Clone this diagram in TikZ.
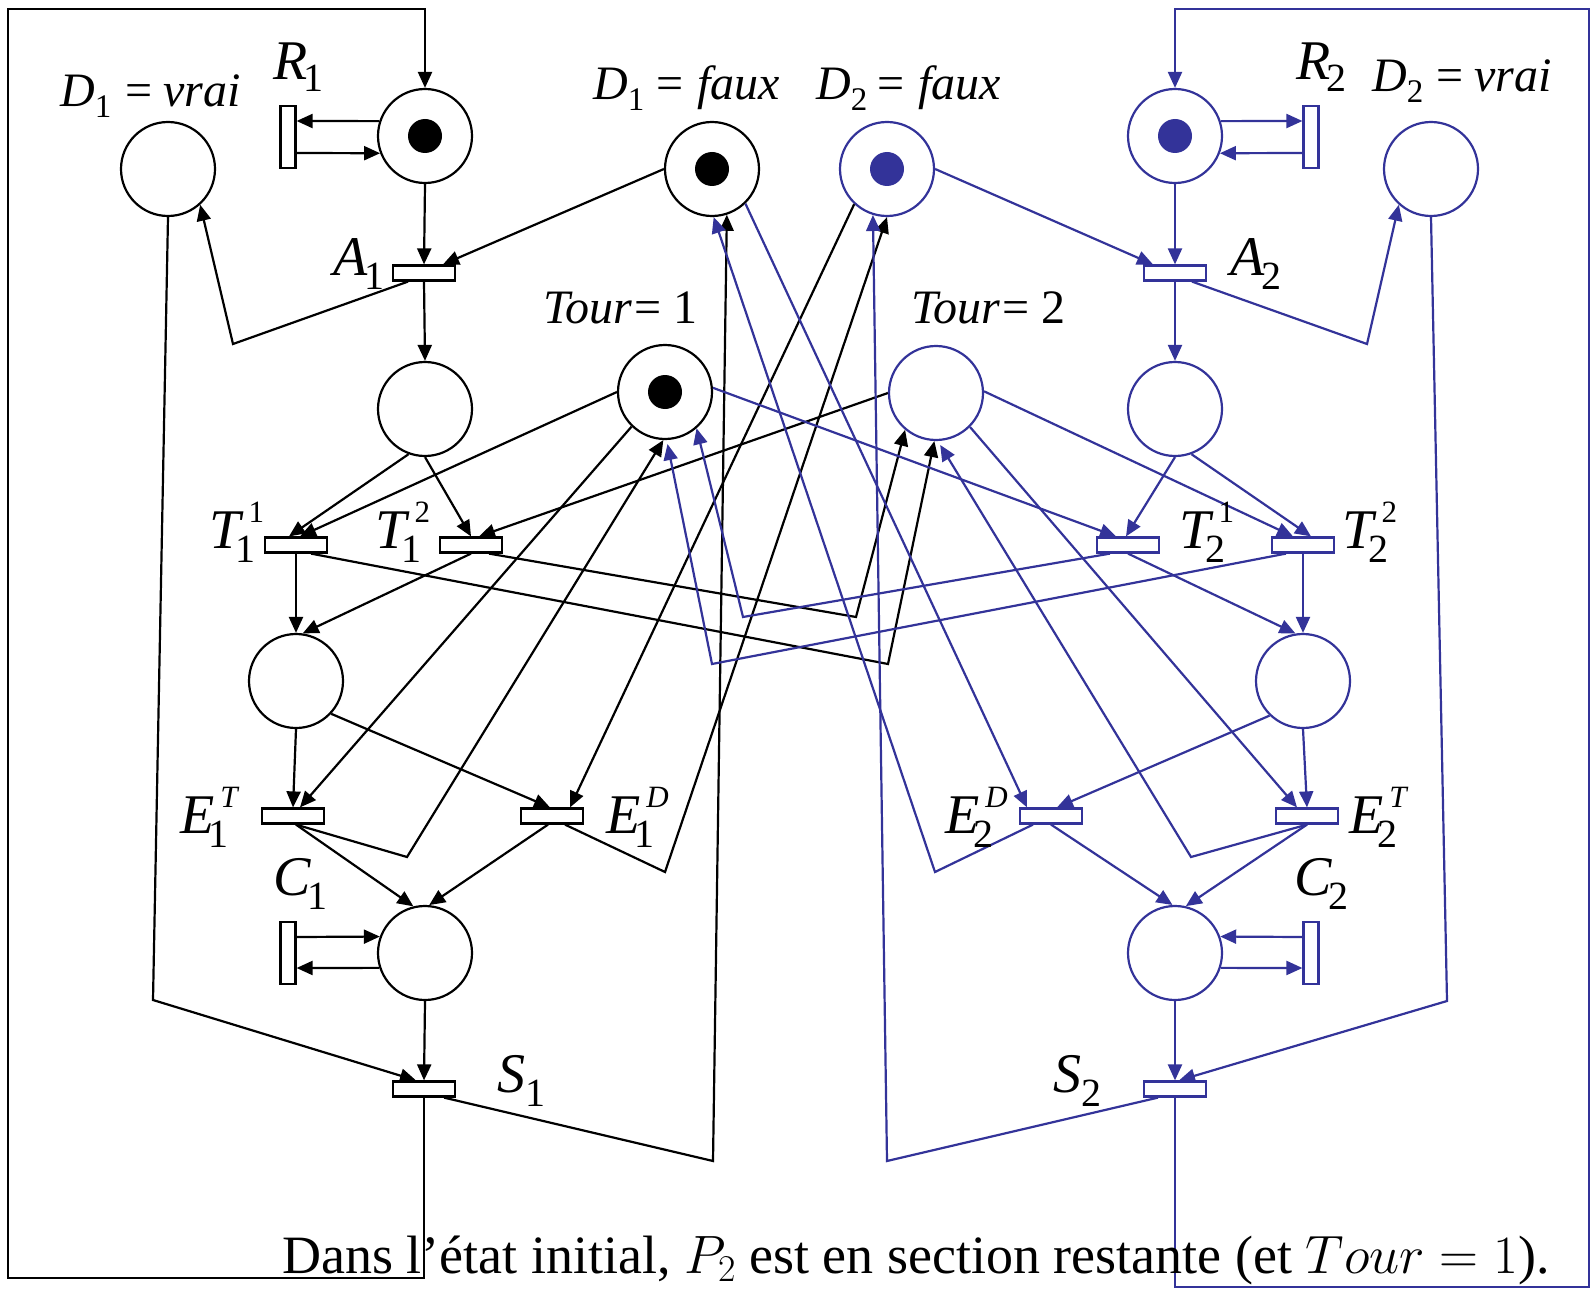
\RequirePackage{fix-cm}
\documentclass[tikz,border=0pt]{standalone}
\usepackage{fontspec}
\setmainfont{Liberation Serif}
\usetikzlibrary{arrows.meta}
\definecolor{pblue}{RGB}{51,51,153}
\newcommand\labsub[2][14]{\raisebox{-#1pt}{\fontsize{40}{42}\selectfont\upshape #2}}
\newcommand\labsup[1]{\raisebox{26pt}{\fontsize{31}{33}\selectfont #1}}
\newcommand\dsub[1]{\raisebox{-11pt}{\fontsize{33}{35}\selectfont\upshape #1}}
\begin{document}
\begin{tikzpicture}[x=1pt,y=-1pt,
  pl/.style={circle,draw,line width=2.2pt,minimum size=94pt,inner sep=0pt},
  tr/.style={rectangle,draw,line width=2.2pt,fill=white,minimum width=62pt,minimum height=15pt,inner sep=0pt},
  vb/.style={rectangle,draw,line width=2.2pt,fill=white,minimum width=15pt,minimum height=62pt,inner sep=0pt},
  tok/.style={circle,fill,minimum size=34pt,inner sep=0pt},
  arc/.style={line width=2.2pt,-{Triangle[length=16pt,width=14pt]}},
  B/.style={pblue},
  lab/.style={inner sep=0pt,anchor=base west,font=\fontsize{56}{60}\selectfont},
  dlab/.style={inner sep=0pt,anchor=base west,font=\fontsize{48}{52}\selectfont}]
\useasboundingbox (0,0) rectangle (1592,1289);
% places
\node[pl] (R1) at (425,136) {};
\node[pl] (D1v) at (168,169) {};
\node[pl] (D1f) at (712,169) {};
\node[pl,draw=pblue] (D2f) at (887,169) {};
\node[pl,draw=pblue] (R2) at (1175,136) {};
\node[pl,draw=pblue] (D2v) at (1431,169) {};
\node[pl] (P1) at (425,409) {};
\node[pl] (Tour1) at (665,392) {};
\node[pl,draw=pblue] (Tour2) at (936,393) {};
\node[pl,draw=pblue] (P2) at (1175,409) {};
\node[pl] (P1b) at (296,681) {};
\node[pl,draw=pblue] (P2b) at (1303,681) {};
\node[pl] (C1) at (425,953) {};
\node[pl,draw=pblue] (C2) at (1175,953) {};
% tokens
\node[tok] (kR1) at (R1) {};
\node[tok] (kD1f) at (D1f) {};
\node[tok] (kTour1) at (Tour1) {};
\node[tok,fill=pblue] (kD2f) at (D2f) {};
\node[tok,fill=pblue] (kR2) at (R2) {};
% transitions
\node[tr] (A1) at (424,273) {};
\node[tr,draw=pblue] (A2) at (1175,273) {};
\node[vb] (R1bar) at (288,137) {};
\node[vb,draw=pblue] (R2bar) at (1311,137) {};
\node[tr] (T11) at (296,545) {};
\node[tr] (T12) at (471,545) {};
\node[tr,draw=pblue] (T21) at (1128,545) {};
\node[tr,draw=pblue] (T22) at (1303,545) {};
\node[tr] (E1T) at (293,816) {};
\node[tr] (E1D) at (552,816) {};
\node[tr,draw=pblue] (E2D) at (1051,816) {};
\node[tr,draw=pblue] (E2T) at (1307,816) {};
\node[vb] (C1bar) at (288,953) {};
\node[vb,draw=pblue] (C2bar) at (1311,953) {};
\node[tr] (S1) at (424,1089) {};
\node[tr,draw=pblue] (S2) at (1175,1089) {};
% bend points
\coordinate (fL1) at (424,1278); \coordinate (fL2) at (8,1278);
\coordinate (fL3) at (8,9); \coordinate (fL4) at (425,9);
\coordinate (fR1) at (1175,1287); \coordinate (fR2) at (1589,1287);
\coordinate (fR3) at (1589,9); \coordinate (fR4) at (1175,9);
\coordinate (bA1) at (233,344); \coordinate (bA2) at (1367,344);
\coordinate (bD1) at (153,1000); \coordinate (bD2) at (1447,1001);
\coordinate (bS1) at (713,1161); \coordinate (bS2) at (887,1161);
\coordinate (bT11) at (888,664); \coordinate (bT12) at (856,617);
\coordinate (bT21) at (743,617); \coordinate (bT22) at (712,664);
\coordinate (bE1T) at (407,857); \coordinate (bE1D) at (665,872);
\coordinate (bE2D) at (935,872); \coordinate (bE2T) at (1191,857);
% black arcs
\draw[arc] (S1.south) -- (fL1) -- (fL2) -- (fL3) -- (fL4) -- (R1.north);
\draw[arc] (R1.162) -- ([yshift=16pt]R1bar.east);
\draw[arc] ([yshift=-16pt]R1bar.east) -- (R1.201);
\draw[arc] (R1.south) -- (A1.north);
\draw[arc] (D1f.180) -- ([xshift=19pt]A1.north);
\draw[arc] ([xshift=-16pt]A1.south) -- (bA1) -- (D1v.-48);
\draw[arc] (A1.south) -- (P1.north);
\draw[arc] (D1v.south) -- (bD1) -- ([xshift=-8pt]S1.north);
\draw[arc] ([xshift=20pt]S1.south) -- (bS1) -- (D1f.-72);
\draw[arc] (P1.-110) -- ([xshift=-7pt]T11.north);
\draw[arc] (Tour1.180) -- ([xshift=4pt]T11.north);
\draw[arc] (P1.south) -- (T12.north);
\draw[arc] (Tour2.180) -- ([xshift=8pt]T12.north);
\draw[arc] (T11.south) -- (P1b.north);
\draw[arc] (T12.south) -- (P1b.82);
\draw[arc] ([xshift=15pt]T11.south) -- (bT11) -- (Tour2.-92);
\draw[arc] ([xshift=18pt]T12.south) -- (bT12) -- (Tour2.-130);
\draw[arc] (P1b.south) -- (E1T.north);
\draw[arc] (P1b.-43) -- ([xshift=-2pt]E1D.north);
\draw[arc] (Tour1.-134) -- ([xshift=7pt]E1T.north);
\draw[arc] ([xshift=3pt]E1T.south) -- (bE1T) -- (Tour1.-92);
\draw[arc] (D2f.-133) -- ([xshift=18pt]E1D.north);
\draw[arc] ([xshift=13pt]E1D.south) -- (bE1D) -- (D2f.-90);
\draw[arc] ([xshift=3pt]E1T.south) -- (C1.104);
\draw[arc] ([xshift=-4pt]E1D.south) -- (C1.85);
\draw[arc] ([yshift=16pt]C1bar.east) -- (C1.160);
\draw[arc] (C1.198) -- ([yshift=-15pt]C1bar.east);
\draw[arc] (C1.south) -- (S1.north);
% blue arcs
\draw[arc,B] (S2.south) -- (fR1) -- (fR2) -- (fR3) -- (fR4) -- (R2.north);
\draw[arc,B] (R2.18) -- ([yshift=16pt]R2bar.west);
\draw[arc,B] ([yshift=-16pt]R2bar.west) -- (R2.-21);
\draw[arc,B] (R2.south) -- (A2.north);
\draw[arc,B] (D2f.0) -- ([xshift=-22pt]A2.north);
\draw[arc,B] ([xshift=17pt]A2.south) -- (bA2) -- (D2v.-132);
\draw[arc,B] (A2.south) -- (P2.north);
\draw[arc,B] (D2v.south) -- (bD2) -- ([xshift=4pt]S2.north);
\draw[arc,B] ([xshift=-17pt]S2.south) -- (bS2) -- (D2f.-107);
\draw[arc,B] (P2.south) -- ([xshift=-2pt]T21.north);
\draw[arc,B] (Tour1.5) -- ([xshift=-12pt]T21.north);
\draw[arc,B] (P2.-70) -- ([xshift=8pt]T22.north);
\draw[arc,B] (Tour2.2) -- ([xshift=-10pt]T22.north);
\draw[arc,B] (T21.south) -- (P2b.99);
\draw[arc,B] (T22.south) -- (P2b.north);
\draw[arc,B] ([xshift=-18pt]T21.south) -- (bT21) -- (Tour1.-49);
\draw[arc,B] ([xshift=-17pt]T22.south) -- (bT22) -- ([yshift=-4pt]Tour1.-87);
\draw[arc,B] (P2b.south) -- (E2T.north);
\draw[arc,B] (P2b.-134) -- ([xshift=6pt]E2D.north);
\draw[arc,B] (Tour2.-45) -- ([xshift=-10pt]E2T.north);
\draw[arc,B] (E2T.south) -- (bE2T) -- ([yshift=-4pt]Tour2.-85);
\draw[arc,B] (D1f.-46) -- ([xshift=-24pt]E2D.north);
\draw[arc,B] ([xshift=-18pt]E2D.south) -- (bE2D) -- (D1f.-88);
\draw[arc,B] (E2D.south) -- (C2.93);
\draw[arc,B] (E2T.south) -- (C2.77);
\draw[arc,B] ([yshift=16pt]C2bar.west) -- (C2.20);
\draw[arc,B] (C2.-18) -- ([yshift=-15pt]C2bar.west);
\draw[arc,B] (C2.south) -- (S2.north);
% labels
\node[dlab] (lD1v) at (60,107) {\textit{D}\dsub{1}\hspace{14pt}=\hspace{11pt}\textit{vrai}};
\node[dlab] (lD1f) at (593,100) {\textit{D}\dsub{1}\hspace{12pt}=\hspace{14pt}\textit{faux}};
\node[dlab] (lD2f) at (816,100) {\textit{D}\dsub{2}\hspace{10pt}=\hspace{14pt}\textit{faux}};
\node[dlab] (lD2v) at (1372,92) {\textit{D}\dsub{2}\hspace{13pt}=\hspace{11pt}\textit{vrai}};
\node[dlab] (lTour1) at (543,323) {\textit{Tour}\kern2pt=\kern12pt1};
\node[dlab] (lTour2) at (911,323) {\textit{Tour}\kern2pt=\kern12pt2};
\node[lab] (lR1) at (273,80) {\textit{R}\kern-4pt\labsub[12]{1}};
\node[lab] (lR2) at (1296,80) {\textit{R}\kern-4pt\labsub[12]{2}};
\node[lab] (lA1) at (333,276) {\textit{A}\kern-3pt\labsub{1}};
\node[lab] (lA2) at (1230,276) {\textit{A}\kern-3pt\labsub{2}};
\node[lab] (lT11) at (209,548) {\textit{T}\rlap{\kern5pt\labsup{1}}\kern-8pt\labsub{1}};
\node[lab] (lT12) at (375,548) {\textit{T}\rlap{\kern5pt\labsup{2}}\kern-8pt\labsub{1}};
\node[lab] (lT21) at (1179,548) {\textit{T}\rlap{\kern5pt\labsup{1}}\kern-8pt\labsub{2}};
\node[lab] (lT22) at (1342,548) {\textit{T}\rlap{\kern5pt\labsup{2}}\kern-8pt\labsub{2}};
\node[lab] (lE1T) at (180,833) {\textit{E}\rlap{\kern6pt\labsup{\textit{T}}}\kern-6pt\labsub{1}};
\node[lab] (lE1D) at (606,833) {\textit{E}\rlap{\kern6pt\labsup{\textit{D}}}\kern-6pt\labsub{1}};
\node[lab] (lE2D) at (945,833) {\textit{E}\rlap{\kern6pt\labsup{\textit{D}}}\kern-6pt\labsub{2}};
\node[lab] (lE2T) at (1349,833) {\textit{E}\rlap{\kern6pt\labsup{\textit{T}}}\kern-6pt\labsub{2}};
\node[lab] (lC1) at (273,895) {\textit{C}\kern-4pt\labsub{1}};
\node[lab] (lC2) at (1294,895) {\textit{C}\kern-4pt\labsub{2}};
\node[lab] (lS1) at (497,1092) {\textit{S}\labsub{1}};
\node[lab] (lS2) at (1053,1092) {\textit{S}\labsub{2}};
\node[inner sep=0pt,anchor=base west,font=\fontsize{54}{60}\selectfont] (note) at (282,1273) {Dans l’état initial, $P_2$ est en section restante (et $Tour = 1$).};
\end{tikzpicture}
\end{document}
